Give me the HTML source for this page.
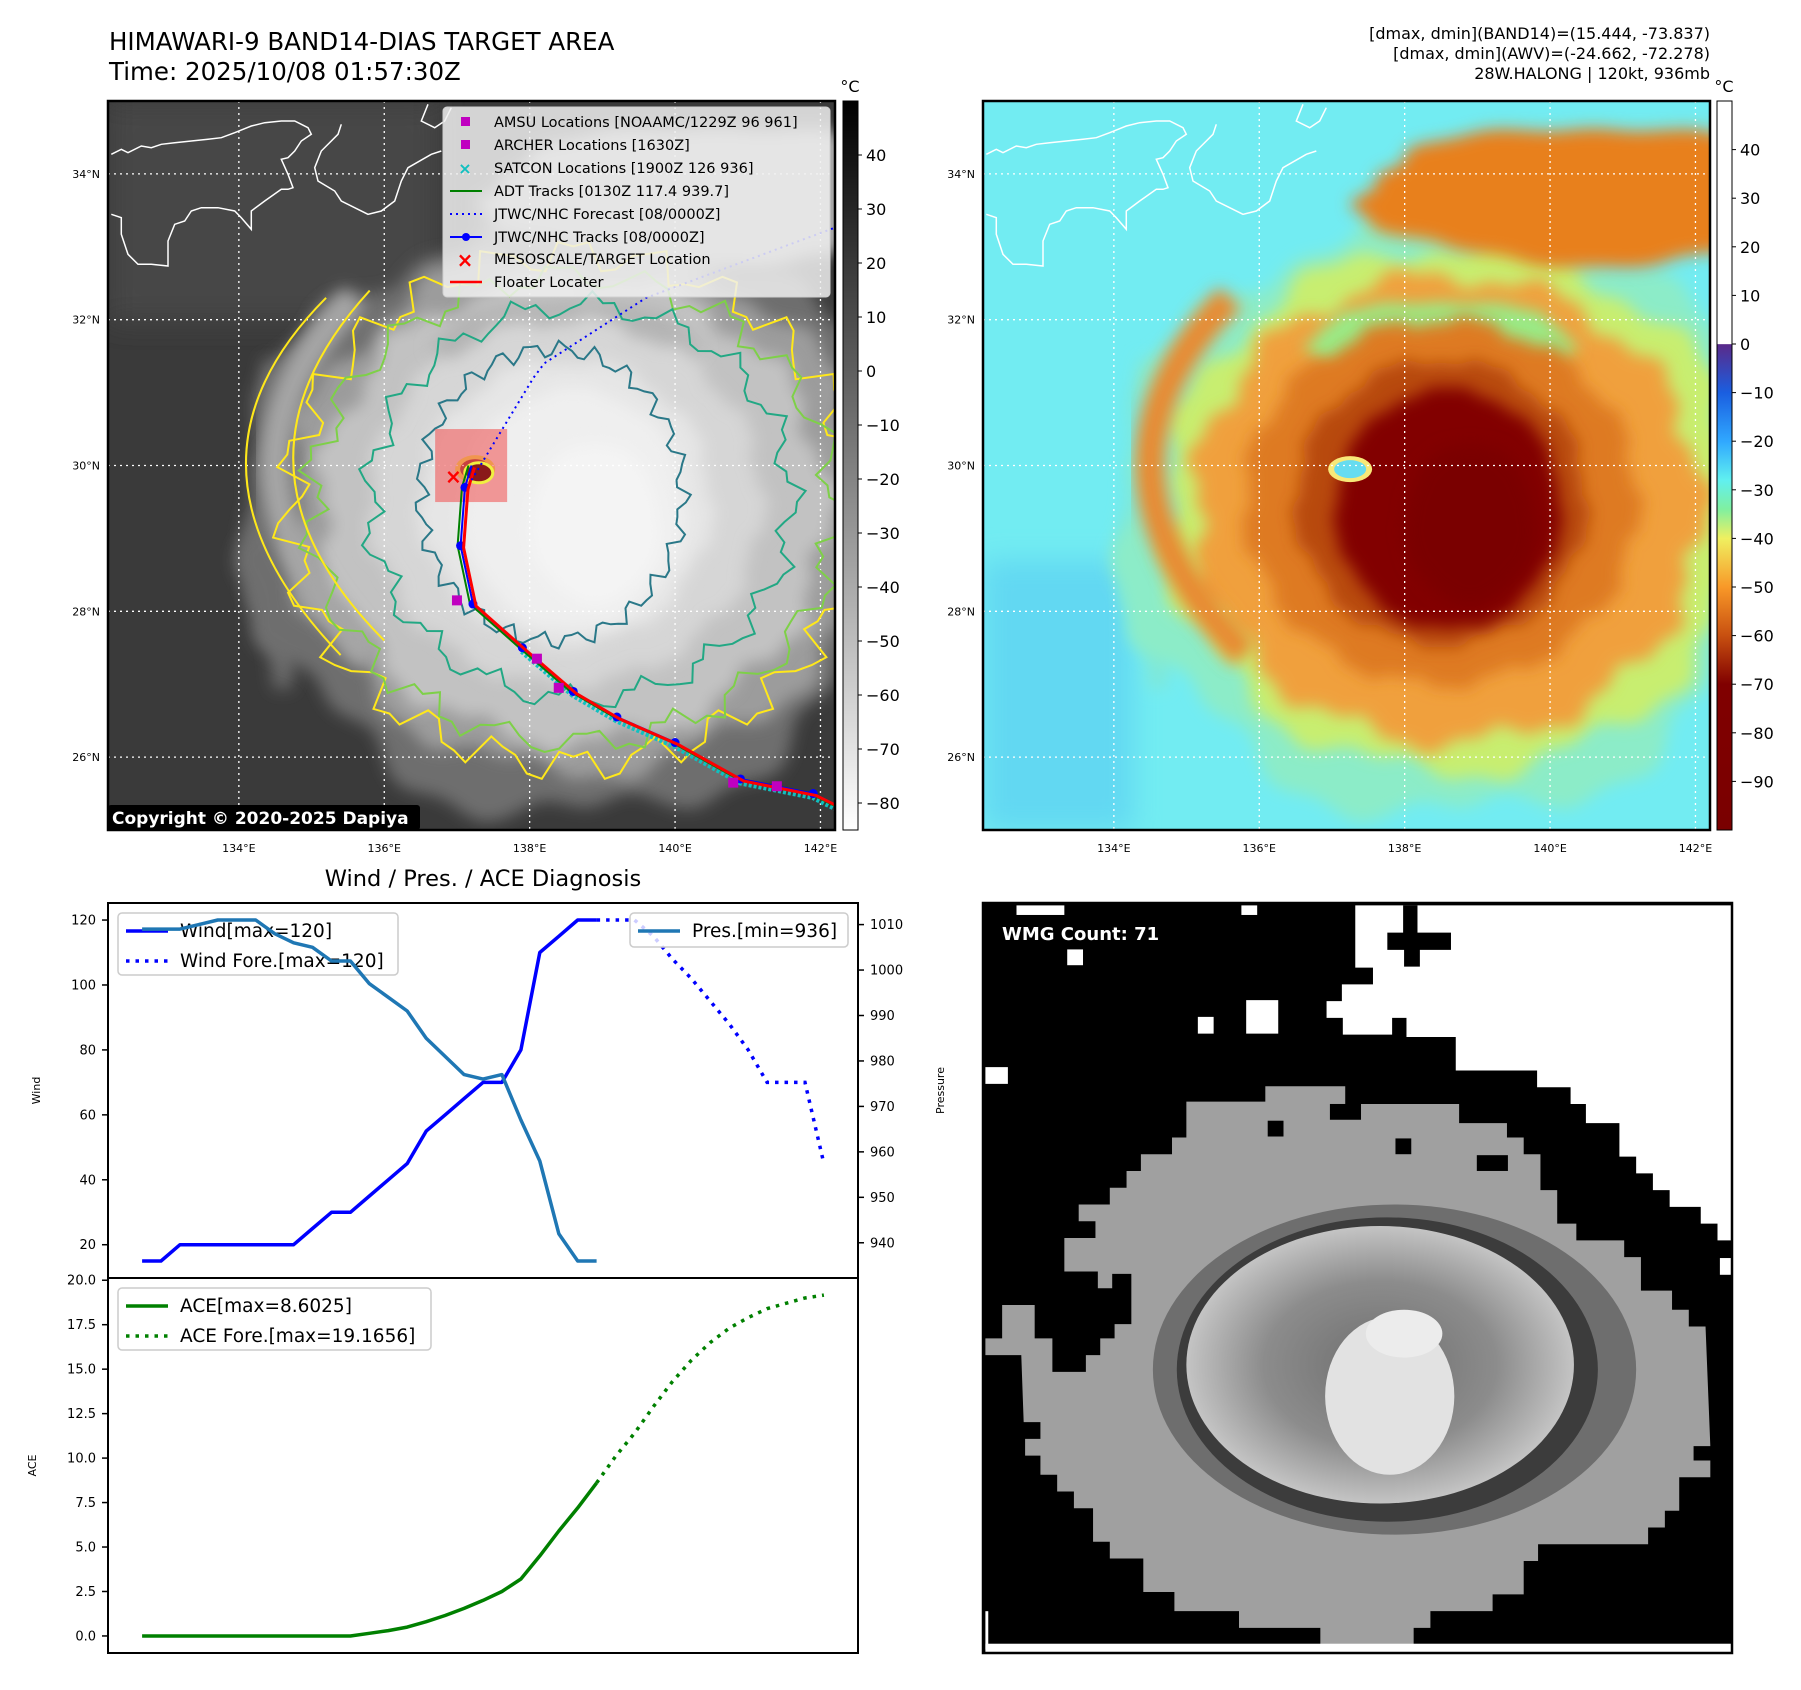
<!DOCTYPE html>
<html><head><meta charset="utf-8">
<style>
html,body{margin:0;padding:0;background:#fff;}
svg{display:block;font-family:"DejaVu Sans","Liberation Sans",sans-serif;}
</style></head>
<body>
<svg id="root" width="1801" height="1690" viewBox="0 0 1801 1690" xmlns="http://www.w3.org/2000/svg">
<defs>
  <filter id="blur8" x="-20%" y="-20%" width="140%" height="140%"><feGaussianBlur stdDeviation="8"/></filter>
  <filter id="blur14" x="-20%" y="-20%" width="140%" height="140%"><feGaussianBlur stdDeviation="14"/></filter>
  <clipPath id="clip1"><rect x="108" y="101" width="727" height="729"/></clipPath>
  <clipPath id="clip2"><rect x="983" y="101" width="727" height="729"/></clipPath>
  <linearGradient id="cb1" x1="0" y1="0" x2="0" y2="1">
    <stop offset="0" stop-color="#000"/><stop offset="1" stop-color="#fff"/>
  </linearGradient>
  <linearGradient id="cb2" x1="0" y1="0" x2="0" y2="1">
    <stop offset="0" stop-color="#fff"/><stop offset="0.333" stop-color="#fff"/>
    <stop offset="0.334" stop-color="#5a2a8a"/>
    <stop offset="0.40" stop-color="#1a5ee0"/>
    <stop offset="0.467" stop-color="#30a8ff"/>
    <stop offset="0.52" stop-color="#60f0f0"/>
    <stop offset="0.56" stop-color="#80f0a0"/>
    <stop offset="0.60" stop-color="#f0f060"/>
    <stop offset="0.667" stop-color="#f89828"/>
    <stop offset="0.733" stop-color="#c85010"/>
    <stop offset="0.80" stop-color="#800000"/>
    <stop offset="1" stop-color="#7a0000"/>
  </linearGradient>
  <radialGradient id="wmgGrad" cx="0.5" cy="0.5" r="0.5">
    <stop offset="0" stop-color="#6e6e6e"/><stop offset="0.6" stop-color="#8c8c8c"/><stop offset="1" stop-color="#c4c4c4"/>
  </radialGradient>
</defs>

<text x="109" y="50" font-size="24.5" fill="#000">HIMAWARI-9 BAND14-DIAS TARGET AREA</text>
<text x="109" y="80" font-size="24.5" fill="#000">Time: 2025/10/08 01:57:30Z</text>
<text x="1710" y="39" font-size="16" text-anchor="end">[dmax, dmin](BAND14)=(15.444, -73.837)</text>
<text x="1710" y="59" font-size="16" text-anchor="end">[dmax, dmin](AWV)=(-24.662, -72.278)</text>
<text x="1710" y="79" font-size="16" text-anchor="end">28W.HALONG | 120kt, 936mb</text>

<g id="map1" clip-path="url(#clip1)"></g>
<g id="map2" clip-path="url(#clip2)"></g>
<g id="mapdeco"></g>

<rect x="843" y="101" width="15" height="729" fill="url(#cb1)" stroke="#000" stroke-width="1"/>
<text x="850" y="92" font-size="16" text-anchor="middle">°C</text>
<rect x="1717" y="101" width="15" height="729" fill="url(#cb2)" stroke="#000" stroke-width="1"/>
<text x="1724" y="92" font-size="16" text-anchor="middle">°C</text>
<g id="cbticks"></g>

<g>
  <rect x="443" y="107" width="387" height="190" rx="4" fill="rgba(240,240,240,0.85)" stroke="#cfcfcf"/>
  <g font-size="14.5" fill="#000">
    <rect x="461" y="117" width="9" height="9" fill="#c000c0"/><text x="494" y="127">AMSU Locations [NOAAMC/1229Z 96 961]</text>
    <rect x="461" y="140" width="9" height="9" fill="#c000c0"/><text x="494" y="150">ARCHER Locations [1630Z]</text>
    <text x="465" y="174" font-size="16" fill="#10c0c0" text-anchor="middle" font-weight="bold">×</text><text x="494" y="173">SATCON Locations [1900Z 126 936]</text>
    <line x1="450" y1="191" x2="482" y2="191" stroke="#008000" stroke-width="2"/><text x="494" y="196">ADT Tracks [0130Z 117.4 939.7]</text>
    <line x1="450" y1="214" x2="482" y2="214" stroke="#0000ff" stroke-width="2" stroke-dasharray="2,4"/><text x="494" y="219">JTWC/NHC Forecast [08/0000Z]</text>
    <line x1="450" y1="237" x2="482" y2="237" stroke="#0000ff" stroke-width="2"/><circle cx="466" cy="237" r="4" fill="#0000ff"/><text x="494" y="242">JTWC/NHC Tracks [08/0000Z]</text>
    <text x="465" y="267" font-size="20" fill="#ff0000" text-anchor="middle" font-weight="bold">×</text><text x="494" y="264">MESOSCALE/TARGET Location</text>
    <line x1="450" y1="282" x2="482" y2="282" stroke="#ff0000" stroke-width="2.5"/><text x="494" y="287">Floater Locater</text>
  </g>
</g>
<g>
  <rect x="108" y="805" width="312" height="25" rx="3" fill="#000"/>
  <text x="112" y="824" font-size="17" font-weight="bold" fill="#fff">Copyright © 2020-2025 Dapiya</text>
</g>

<text x="483" y="886" font-size="22.5" text-anchor="middle">Wind / Pres. / ACE Diagnosis</text>
<g id="chart"></g>

<g id="wmg">
  <rect x="983" y="903" width="749" height="750" fill="#000"/>
  <g transform="translate(983,903) scale(0.4785)">
    <polygon fill="#fff" points="778,5 1568,5 1568,705 1535,705 1535,670 1500,670 1500,635 1435,635 1435,600 1400,600 1400,565 1365,565 1365,530 1330,530 1330,460 1260,460 1260,420 1228,420 1228,385 1158,385 1158,350 988,350 988,280 885,280 885,240 855,240 855,275 752,275 752,240 718,240 718,205 750,205 750,170 815,170 815,135 778,135"/>
    <polygon fill="#000" points="878,5 908,5 908,62 978,62 978,98 913,98 913,133 880,133 880,98 845,98 845,62 878,62"/>
    <rect x="550" y="203" width="67" height="70" fill="#fff"/>
    <rect x="449" y="238" width="33" height="35" fill="#fff"/>
    <rect x="176" y="97" width="33" height="33" fill="#fff"/>
    <rect x="5" y="343" width="47" height="35" fill="#fff"/>
    <rect x="540" y="5" width="33" height="20" fill="#fff"/>
    <rect x="70" y="5" width="100" height="20" fill="#fff"/>
    <rect x="1540" y="742" width="28" height="35" fill="#fff"/>
    <polygon fill="#a0a0a0" points="425,415 590,415 590,383 757,383 757,420 995,420 995,460 1095,460 1095,490 1130,490 1130,525 1165,525 1165,600 1200,600 1200,670 1240,670 1240,705 1340,705 1340,740 1375,740 1375,810 1440,810 1440,850 1475,850 1475,885 1510,885 1520,1135 1485,1135 1485,1165 1520,1165 1520,1200 1455,1200 1455,1270 1425,1270 1425,1305 1390,1305 1390,1340 1160,1340 1160,1375 1130,1375 1130,1445 1065,1445 1065,1480 935,1480 935,1515 900,1515 900,1550 705,1550 705,1515 535,1515 535,1480 400,1480 400,1440 335,1440 335,1370 265,1370 265,1335 230,1335 230,1265 190,1265 190,1230 155,1230 155,1195 120,1195 120,1155 88,1155 88,1120 120,1120 120,1085 85,1085 80,945 5,945 5,910 40,910 40,840 108,840 108,910 145,910 145,980 215,980 215,945 245,945 245,910 275,910 275,880 310,880 310,775 270,775 270,805 240,805 240,770 170,770 170,700 235,700 235,665 200,665 200,630 265,630 265,595 300,595 300,560 330,560 330,525 395,525 395,490 425,490"/>
    <rect x="595" y="455" width="33" height="33" fill="#000"/>
    <rect x="862" y="492" width="33" height="33" fill="#000"/>
    <rect x="1032" y="527" width="65" height="33" fill="#000"/>
    <rect x="725" y="420" width="65" height="33" fill="#000"/>
    <ellipse cx="860" cy="975" rx="505" ry="345" fill="#6e6e6e"/>
    <ellipse cx="845" cy="975" rx="440" ry="318" fill="#3c3c3c"/>
    <ellipse cx="830" cy="965" rx="405" ry="290" fill="url(#wmgGrad)"/>
    <ellipse cx="850" cy="1030" rx="135" ry="165" fill="#e2e2e2"/>
    <ellipse cx="880" cy="900" rx="80" ry="50" fill="#ececec"/>
    <rect x="5" y="1548" width="1563" height="18" fill="#fff"/>
    <rect x="5" y="1480" width="6" height="80" fill="#fff"/>
  </g>
  <rect x="983" y="903" width="749" height="750" fill="none" stroke="#000" stroke-width="2.5"/>
  <text x="1002" y="940" font-size="18" font-weight="bold" fill="#fff">WMG Count: 71</text>
</g>

<script>
const timeIdx = [0,1,2,3,4,5,6,7,8,9,10,11,12,13,14,15,16,17,18,19,20,21,22,23,24];
const windObs = [15,15,20,20,20,20,20,20,20,25,30,30,35,40,45,55,60,65,70,70,80,110,115,120,120];
const foreIdx = [24,25,26,27,28,29,30,31,32,33,34,35,36];
const windFore = [120,120,120,115,108,102,95,88,80,70,70,70,45];
const presObs = [1009,1009,1009,1010,1011,1011,1011,1008,1006,1005,1002,1002,997,994,991,985,981,977,976,977,967,958,942,936,936];
const aceObs = [0,0,0,0,0,0,0,0,0,0,0,0,0.15,0.3,0.5,0.8,1.15,1.55,2.0,2.5,3.2,4.5,5.9,7.2,8.6025];
const aceFore = [8.6025,10.1,11.4,12.9,14.3,15.5,16.5,17.3,17.9,18.4,18.7,19.0,19.1656];
const windTicks = [20,40,60,80,100,120];
const presTicks = [940,950,960,970,980,990,1000,1010];
const aceTicks = [0,2.5,5,7.5,10,12.5,15,17.5,20];
const aceTickLabels = ["0.0","2.5","5.0","7.5","10.0","12.5","15.0","17.5","20.0"];

const NS='http://www.w3.org/2000/svg';
function mk(tag, attrs, parent){const e=document.createElementNS(NS,tag);for(const k in attrs)e.setAttribute(k,attrs[k]);if(parent)parent.appendChild(e);return e;}

const AX0=108, AX1=858, UY0=903, UY1=1278, LY0=1278, LY1=1653;
const XMIN=-1.8, XMAX=37.8;
function xs(i){return AX0+(i-XMIN)/(XMAX-XMIN)*(AX1-AX0);}
const WMIN=9.75, WMAX=125.25, PMIN=932.25, PMAX=1014.75, AMIN=-0.958, AMAX=20.125;
function yw(v){return UY1-(v-WMIN)/(WMAX-WMIN)*(UY1-UY0);}
function yp(v){return UY1-(v-PMIN)/(PMAX-PMIN)*(UY1-UY0);}
function ya(v){return LY1-(v-AMIN)/(AMAX-AMIN)*(LY1-LY0);}
function pts(xa,ya_,f){return xa.map((x,k)=>xs(x).toFixed(1)+','+f(ya_[k]).toFixed(1)).join(' ');}

const ch=document.getElementById('chart');
function legend(x,y,w,h,items,name){
  const g=mk('g',{},ch);
  
  
  mk('rect',{x:x,y:y,width:w,height:h,rx:4,fill:'rgba(255,255,255,0.8)',stroke:'#cccccc','stroke-width':1.5},g);
  items.forEach((it,k)=>{const cy=y+18+k*30;
    const a={x1:x+8,y1:cy,x2:x+50,y2:cy,stroke:it.c,'stroke-width':3.5};if(it.d)a['stroke-dasharray']='3.5,6';mk('line',a,g);
    const tt=mk('text',{x:x+62,y:cy+6,'font-size':18.5},g);tt.textContent=it.t;});
}
let l;
l=mk('polyline',{points:pts(timeIdx,windObs,yw),fill:'none',stroke:'#0000ff','stroke-width':3.5,'stroke-linejoin':'round'},ch);


l=mk('polyline',{points:pts(foreIdx,windFore,yw),fill:'none',stroke:'#0000ff','stroke-width':3.5,'stroke-dasharray':'3.5,6'},ch);


legend(118,913,280,62,[{c:'#0000ff',t:'Wind[max=120]'},{c:'#0000ff',t:'Wind Fore.[max=120]',d:1}],'wind-legend');
l=mk('polyline',{points:pts(timeIdx,presObs,yp),fill:'none',stroke:'#1f77b4','stroke-width':3.5,'stroke-linejoin':'round'},ch);


legend(630,913,218,34,[{c:'#1f77b4',t:'Pres.[min=936]'}],'pressure-legend');
l=mk('polyline',{points:pts(timeIdx,aceObs,ya),fill:'none',stroke:'#008000','stroke-width':3.5,'stroke-linejoin':'round'},ch);


l=mk('polyline',{points:pts(foreIdx,aceFore,ya),fill:'none',stroke:'#008000','stroke-width':3.5,'stroke-dasharray':'3.5,6'},ch);


legend(118,1288,313,62,[{c:'#008000',t:'ACE[max=8.6025]'},{c:'#008000',t:'ACE Fore.[max=19.1656]',d:1}],'ace-legend');

mk('rect',{x:AX0,y:UY0,width:AX1-AX0,height:UY1-UY0,fill:'none',stroke:'#000','stroke-width':2},ch);
mk('rect',{x:AX0,y:LY0,width:AX1-AX0,height:LY1-LY0,fill:'none',stroke:'#000','stroke-width':2},ch);
windTicks.forEach(v=>{const y=yw(v);mk('line',{x1:AX0-6,y1:y,x2:AX0,y2:y,stroke:'#000','stroke-width':1.5},ch);
  const t=mk('text',{x:AX0-12,y:y+4.5,'font-size':13,'text-anchor':'end'},ch);t.textContent=v;
  
  });
presTicks.forEach(v=>{const y=yp(v);mk('line',{x1:AX1,y1:y,x2:AX1+6,y2:y,stroke:'#000','stroke-width':1.5},ch);
  const t=mk('text',{x:AX1+12,y:y+4.5,'font-size':13},ch);t.textContent=v;
  
  });
aceTicks.forEach((v,k)=>{const y=ya(v);mk('line',{x1:AX0-6,y1:y,x2:AX0,y2:y,stroke:'#000','stroke-width':1.5},ch);
  const t=mk('text',{x:AX0-12,y:y+4.5,'font-size':13,'text-anchor':'end'},ch);t.textContent=aceTickLabels[k];
  
  });
let t;
t=mk('text',{x:0,y:0,'font-size':11,'text-anchor':'middle',transform:'translate(40,'+((UY0+UY1)/2)+') rotate(-90)'},ch);t.textContent='Wind';


t=mk('text',{x:0,y:0,'font-size':11,'text-anchor':'middle',transform:'translate(944,'+((UY0+UY1)/2)+') rotate(-90)'},ch);t.textContent='Pressure';


t=mk('text',{x:0,y:0,'font-size':11,'text-anchor':'middle',transform:'translate(36,'+((LY0+LY1)/2)+') rotate(-90)'},ch);t.textContent='ACE';



function lx(m,lon){return (m?983:108)+(lon-132.2)/10*727;}
function ly(lat){return 101+(35.0-lat)/10*729;}
function blob(m,lon,lat,rx,ry,amp,k,ph){
  const cx=lx(m,lon),cy=ly(lat),RX=rx*72.7,RY=ry*72.9;let d='';
  for(let i=0;i<=120;i++){const a=i/120*Math.PI*2;const r=1+amp*Math.sin(k*a+ph)+amp*0.5*Math.sin(3*k*a+ph*2);
    const x=cx+RX*r*Math.cos(a),y=cy+RY*r*Math.sin(a);d+=(i?'L':'M')+x.toFixed(1)+','+y.toFixed(1);}
  return d+'Z';
}
const shapes=[
 [134.6,29.3,0.5,2.2,0.1,5,0,'#6a6a6a','#7fe8d8'],
 [138.6,29.3,4.5,4.1,0.05,7,0.5,'#6e6e6e','#8cecc8'],
 [138.7,29.4,4.0,3.6,0.04,9,1,'#9c9c9c','#c8ee70'],
 [140.6,33.7,3.2,0.95,0.05,5,0,'#a8a8a8','#e8801e'],
 [138.6,29.4,3.5,3.2,0.04,11,2,'#c2c2c2','#f0a03c'],
 [138.5,31.7,1.8,0.55,0.05,5,0,'#b4b4b4','#98ec88'],
 [138.5,29.5,2.7,2.5,0.03,13,1,'#d6d6d6','#de7a22'],
 [138.5,29.5,2.0,1.95,0.03,9,0,'#e6e6e6','#b84a10'],
 [138.6,29.4,1.55,1.65,0.02,7,0,'#efefef','#820400'],
 [138.9,29.2,0.9,1.1,0.02,5,0,'#f4f4f4','#7a0000']
];
const coastA=[[10,160],[40,145],[60,155],[100,135],[130,140],[160,130],[200,125],[250,120],[300,115],[340,110],[380,95],[430,75],[470,65],[520,60],[560,60],[600,80],[610,100],[580,120],[560,150],[540,170],[520,175],[540,220],[555,260],[540,265],[520,265],[470,300],[430,330],[430,385],[400,350],[380,330],[330,320],[280,320],[250,330],[230,360],[200,370],[180,420],[180,495],[130,490],[90,490],[60,460],[40,400],[40,350],[10,340]];
const coastB=[[700,70],[690,100],[640,150],[620,200],[630,240],[680,270],[700,300],[780,340],[820,330],[860,300],[880,240],[900,200],[970,160],[1000,150]];
const coastC=[[960,10],[940,60],[980,80],[1010,60],[1030,20]];
for(let m=0;m<2;m++){
  const g=document.getElementById(m?'map2':'map1');
  mk('rect',{x:m?983:108,y:101,width:727,height:729,fill:m?'#72ecf2':'#3a3a3a'},g);
  if(m){mk('rect',{x:983,y:560,width:150,height:270,fill:'#62d8f2',filter:'url(#blur14)'},g);}
  else{mk('rect',{x:108,y:101,width:330,height:220,fill:'#464646',filter:'url(#blur14)'},g);}
  shapes.forEach(s=>{mk('path',{d:blob(m,s[0],s[1],s[2],s[3],s[4],s[5],s[6]),fill:m?s[8]:s[7],filter:'url(#blur8)'},g);});
  const arm='M'+lx(m,135.6)+','+ly(32.3)+' Q'+lx(m,133.3)+','+ly(30)+' '+lx(m,135.8)+','+ly(27.4);
  mk('path',{d:arm,fill:'none',stroke:m?'#e88a30':'#a6a6a6','stroke-width':30,filter:'url(#blur8)'},g);
  mk('ellipse',{cx:lx(m,137.25),cy:ly(29.95),rx:m?22:20,ry:m?13:14,fill:m?'#f8e878':'#f0f040'},g);
  mk('ellipse',{cx:lx(m,137.25),cy:ly(29.95),rx:m?16:15,ry:m?9:10,fill:m?'#66dcf0':'#8a1a1a'},g);
  const off=m?983:108;
  [coastA,coastB,coastC].forEach(c=>{mk('polyline',{points:c.map(p=>(off+p[0]/3).toFixed(1)+','+(101+p[1]/3).toFixed(1)).join(' '),fill:'none',stroke:'#fff','stroke-width':1.5},g);});
  for(let lo=134;lo<=142;lo+=2){mk('line',{x1:lx(m,lo),y1:101,x2:lx(m,lo),y2:830,stroke:'#fff','stroke-width':1.3,'stroke-dasharray':'2,4'},g);}
  for(let la=26;la<=34;la+=2){mk('line',{x1:m?983:108,y1:ly(la),x2:m?1710:835,y2:ly(la),stroke:'#fff','stroke-width':1.3,'stroke-dasharray':'2,4'},g);}
  const d=document.getElementById('mapdeco');
  mk('rect',{x:m?983:108,y:101,width:727,height:729,fill:'none',stroke:'#000','stroke-width':2.5},d);
  for(let lo=134;lo<=142;lo+=2){const tt=mk('text',{x:lx(m,lo),y:852,'font-size':11,'text-anchor':'middle'},d);tt.textContent=lo+'°E';
    
    }
  for(let la=26;la<=34;la+=2){const tt=mk('text',{x:(m?983:108)-8,y:ly(la)+4,'font-size':11,'text-anchor':'end'},d);tt.textContent=la+'°N';
    
    }
}
const m1=document.getElementById('map1');
[[138.6,29.4,3.9,3.5,0.06,23,0,'#ffe81a'],[138.6,29.4,3.6,3.2,0.05,19,1,'#7ed048'],[138.7,29.5,2.9,2.7,0.05,17,2,'#22a884'],[138.3,29.6,1.8,2.0,0.05,25,1,'#2a7888']].forEach(c=>{
  mk('path',{d:blob(0,c[0],c[1],c[2],c[3],c[4],c[5],c[6]),fill:'none',stroke:c[7],'stroke-width':2},m1);});
mk('path',{d:'M'+lx(0,135.8)+','+ly(32.4)+' Q'+lx(0,133.6)+','+ly(30)+' '+lx(0,136)+','+ly(27.6),fill:'none',stroke:'#ffe81a','stroke-width':2},m1);
mk('path',{d:'M'+lx(0,135.2)+','+ly(32.3)+' Q'+lx(0,132.9)+','+ly(30)+' '+lx(0,135.4)+','+ly(27.4),fill:'none',stroke:'#ffe81a','stroke-width':2},m1);
mk('rect',{x:lx(0,136.7),y:ly(30.5),width:72,height:73,fill:'rgba(240,90,90,0.6)'},m1);
mk('ellipse',{cx:lx(0,137.3),cy:ly(29.9),rx:14,ry:10,fill:'#8a1a1a',stroke:'#f0f040','stroke-width':3},m1);
const track=[[142.3,25.3],[141.9,25.5],[140.9,25.7],[140.0,26.2],[139.2,26.55],[138.6,26.9],[137.9,27.5],[137.22,28.1],[137.05,28.9],[137.11,29.7],[137.2,30.0]];
const tp=track.map(p=>lx(0,p[0])+','+ly(p[1])).join(' ');
mk('polyline',{points:track.slice(0,7).map(p=>lx(0,p[0])+','+(ly(p[1])+3)).join(' '),fill:'none',stroke:'#10c0c0','stroke-width':7,'stroke-dasharray':'3,2'},m1);
mk('polyline',{points:track.map(p=>(lx(0,p[0])-3)+','+ly(p[1])).join(' '),fill:'none',stroke:'#008000','stroke-width':2},m1);
mk('polyline',{points:tp,fill:'none',stroke:'#0000ff','stroke-width':2},m1);
track.slice(1,10).forEach(p=>mk('circle',{cx:lx(0,p[0]),cy:ly(p[1]),r:4.5,fill:'#0000ff'},m1));
mk('polyline',{points:track.map(p=>(lx(0,p[0])+3)+','+(ly(p[1])+2)).join(' '),fill:'none',stroke:'#ff0000','stroke-width':3},m1);
const fc=[[137.2,29.8],[138.05,31.2],[138.2,31.4],[139.6,32.3],[142.3,33.3]];
mk('polyline',{points:fc.map(p=>lx(0,p[0])+','+ly(p[1])).join(' '),fill:'none',stroke:'#0000ff','stroke-width':2,'stroke-dasharray':'2,4'},m1);
[[137.0,28.15],[138.1,27.35],[138.4,26.95],[140.8,25.65],[141.4,25.6]].forEach(p=>mk('rect',{x:lx(0,p[0])-5,y:ly(p[1])-5,width:10,height:10,fill:'#c000c0'},m1));
const xm=mk('text',{x:lx(0,136.95),y:ly(29.85)+7,'font-size':20,fill:'#ff0000','font-weight':'bold','text-anchor':'middle'},m1);xm.textContent='×';

const cbt=document.getElementById('cbticks');
const cb1Ticks=[40,30,20,10,0,-10,-20,-30,-40,-50,-60,-70,-80];
const cb2Ticks=[40,30,20,10,0,-10,-20,-30,-40,-50,-60,-70,-80,-90];
cb1Ticks.forEach(v=>{const y=101+(50-v)/135*729;mk('line',{x1:858,y1:y,x2:862,y2:y,stroke:'#000'},cbt);
  const tt=mk('text',{x:866,y:y+6,'font-size':16},cbt);tt.textContent=v<0?'\u2212'+(-v):v;
  
  });
cb2Ticks.forEach(v=>{const y=101+(50-v)/150*729;mk('line',{x1:1732,y1:y,x2:1736,y2:y,stroke:'#000'},cbt);
  const tt=mk('text',{x:1740,y:y+6,'font-size':16},cbt);tt.textContent=v<0?'\u2212'+(-v):v;
  
  });
</script>
</svg>
</body></html>
